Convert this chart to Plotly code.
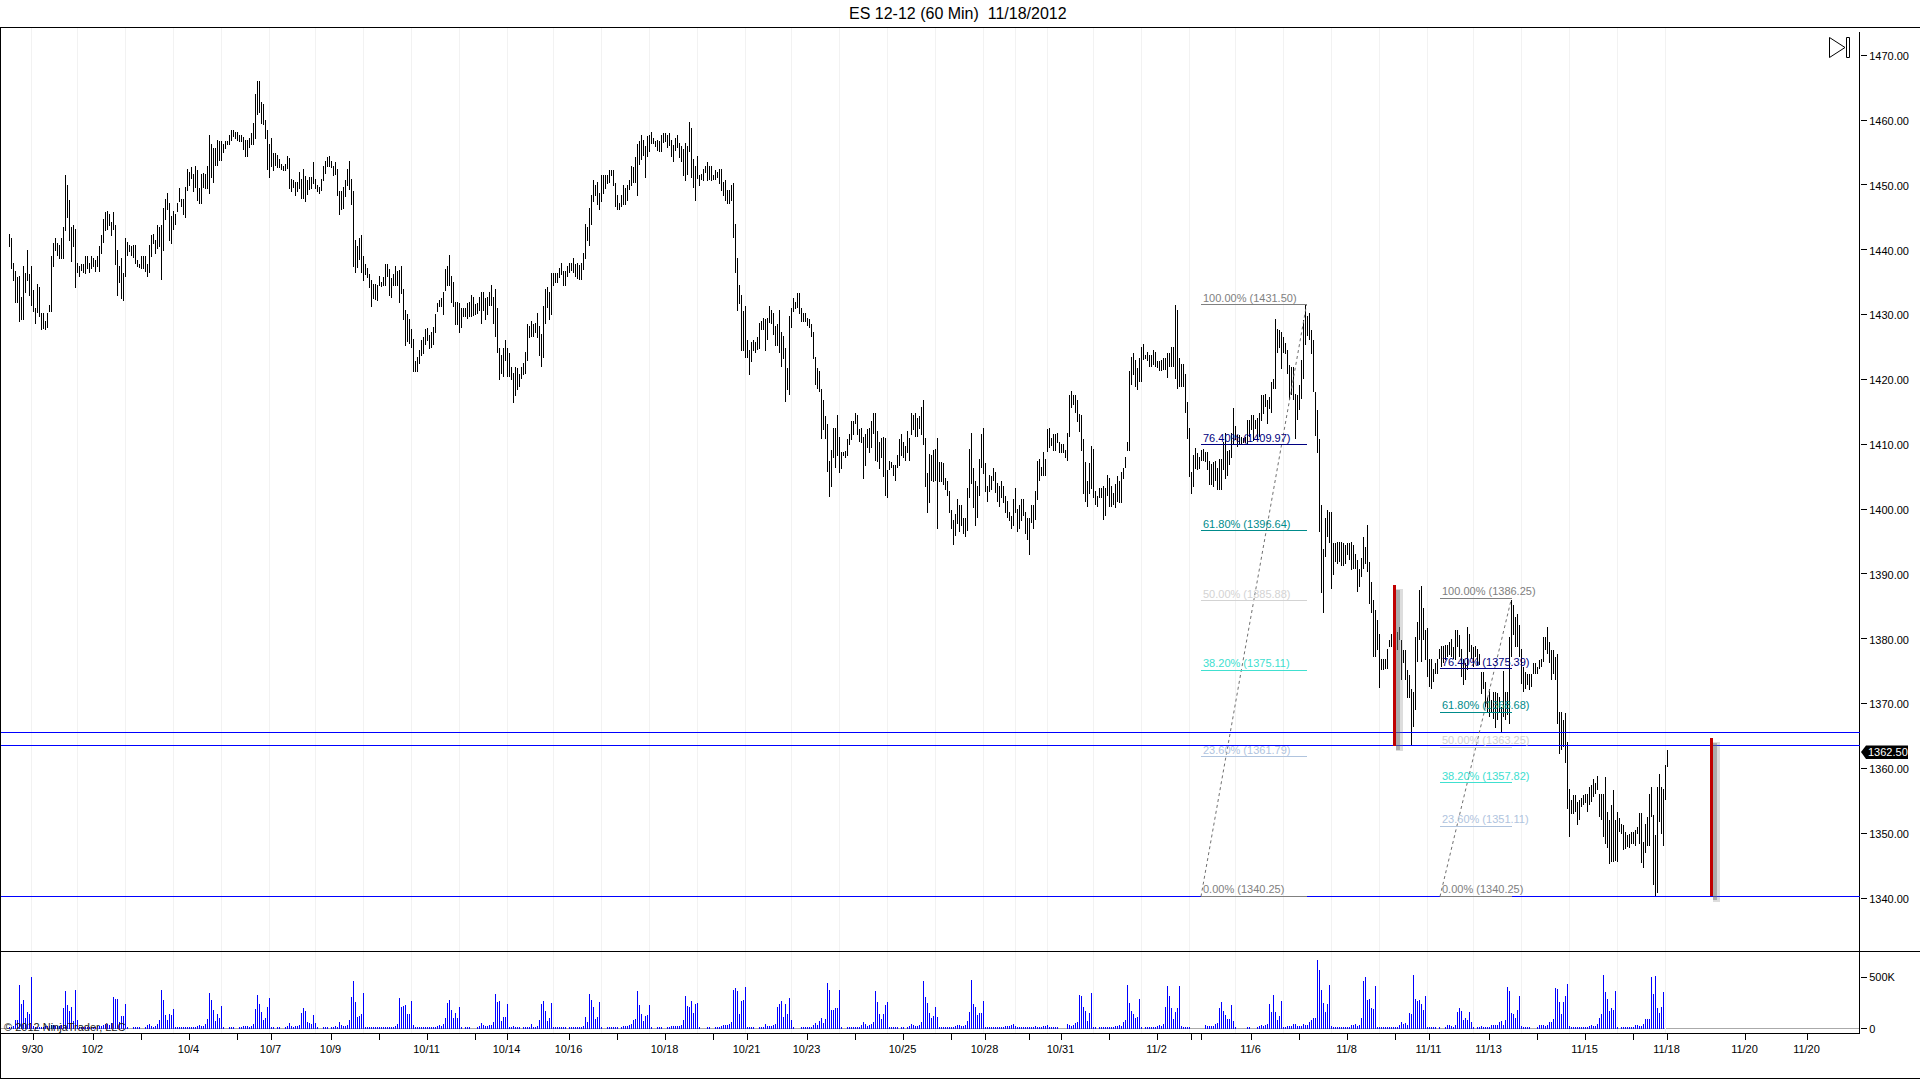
import plotly.graph_objects as go

TITLE = "ES 12-12 (60 Min)\u00a0\u00a011/18/2012"

highs_a = [1442.4,1441.9,1437.9,1436.7,1435.8,1435.9,1432.7,1437.5,1436.5,1439.9,1436.2,1437.5,1433.8,1431.0,1434.7,1434.2,1430.2,1430.2,1429.0,1430.2,1431.5,1439.0,1441.0,1441.9,1441.0,1440.7,1441.8,1443.5,1451.5,1450.0,1447.7,1443.5,1443.9,1443.2,1437.9,1437.5,1437.8,1437.8,1439.0,1439.0,1437.9,1439.0,1438.7,1438.5,1439.0,1440.6,1442.3,1444.7,1445.8,1446.0,1445.5,1444.3,1445.8,1443.8,1439.9,1437.5,1438.7,1436.5,1441.8,1441.2,1440.7,1440.6,1440.7,1440.7,1438.5,1437.8,1439.0,1439.0,1439.0,1437.8,1440.7,1442.3,1442.4,1441.5,1443.8,1443.5,1443.8,1446.4,1447.9,1448.7,1447.2,1445.2,1446.0,1445.5,1447.2,1449.5,1447.9,1447.9,1449.7,1452.4,1452.0,1452.7,1451.7,1452.9,1452.3,1449.5,1451.7,1451.8,1451.7,1452.9,1457.7,1456.3,1455.7,1455.7,1456.9,1456.8,1456.8,1456.4,1456.8,1456.8,1457.7,1458.5,1458.5,1458.1,1458.1,1457.7,1457.7,1457.4,1456.9,1456.9,1457.2,1458.0,1459.5,1464.0,1466.0,1466.0,1462.8,1462.5,1460.0,1458.5,1456.3,1457.2,1454.9,1454.9,1454.7,1454.0,1453.2,1452.9,1453.2,1454.4,1454.1,1451.0,1450.7,1450.4,1450.4,1452.0,1450.9,1452.4,1451.4,1450.7,1451.2,1451.2,1453.5,1451.0,1450.0,1449.7,1451.0,1452.9,1453.7,1454.3,1454.4,1453.7,1452.9,1453.5,1452.4,1449.0,1449.0,1449.7,1450.7,1452.4,1453.7,1451.0,1449.0,1441.5,1440.6,1441.8,1442.3,1439.0,1437.8,1437.2,1436.2,1435.3,1434.7,1434.7,1434.5,1435.9,1435.0,1435.8,1437.8,1437.8,1437.0,1435.6,1436.2,1437.5,1436.7,1436.9,1437.5,1433.9,1430.7,1430.1,1429.3,1427.8,1426.2,1422.8,1423.4,1424.5,1426.1,1426.5,1427.8,1427.9,1426.8,1427.3,1428.1,1430.1,1431.8,1432.2,1432.5,1433.5,1437.0,1437.5,1439.2,1435.9,1435.0,1431.9,1431.9,1431.8,1431.0,1431.0,1431.0,1431.8,1431.9,1433.0,1432.7,1431.6,1431.8,1432.7]
lows_a = [1440.5,1437.1,1435.2,1431.8,1431.8,1428.9,1429.2,1429.2,1433.3,1435.2,1432.9,1431.3,1430.4,1428.6,1430.2,1429.7,1427.7,1427.8,1427.7,1428.0,1430.4,1430.4,1437.4,1439.8,1439.0,1438.6,1438.6,1438.6,1442.9,1444.9,1441.4,1438.1,1440.5,1434.1,1436.4,1435.8,1436.8,1436.4,1436.2,1437.1,1436.4,1437.1,1437.4,1436.6,1437.4,1436.6,1439.4,1441.1,1442.9,1443.0,1443.6,1442.2,1443.0,1437.7,1432.9,1434.9,1432.4,1432.1,1435.8,1439.1,1439.6,1439.0,1438.7,1437.8,1437.4,1437.2,1437.1,1437.1,1436.6,1435.8,1436.4,1438.9,1440.9,1439.4,1440.2,1440.5,1435.4,1439.8,1444.6,1446.2,1441.4,1440.9,1443.1,1443.9,1445.8,1447.3,1446.6,1445.4,1444.9,1449.1,1449.8,1450.9,1448.9,1449.5,1447.5,1447.0,1447.0,1449.5,1449.4,1449.4,1448.6,1451.1,1450.3,1453.0,1453.0,1453.7,1453.7,1455.0,1455.5,1456.1,1456.1,1456.8,1457.4,1457.1,1456.8,1456.6,1456.6,1455.4,1454.3,1454.3,1455.7,1456.1,1456.1,1457.1,1460.8,1461.1,1459.4,1459.2,1457.1,1452.3,1451.1,1452.8,1452.2,1452.9,1452.6,1452.6,1452.3,1452.1,1452.1,1452.4,1449.4,1448.9,1449.5,1448.3,1448.9,1449.4,1447.8,1447.8,1447.3,1448.4,1449.2,1449.4,1450.1,1449.4,1448.9,1448.6,1449.0,1450.6,1451.7,1452.7,1452.7,1452.6,1451.4,1451.5,1448.3,1445.3,1446.1,1446.3,1448.1,1449.8,1449.2,1446.9,1437.3,1436.5,1437.2,1438.5,1436.5,1435.2,1436.1,1435.6,1434.1,1431.2,1432.4,1432.2,1432.1,1434.4,1434.2,1434.4,1434.4,1435.8,1432.9,1432.5,1434.4,1434.4,1434.4,1431.8,1433.2,1429.2,1425.1,1425.8,1425.5,1424.8,1421.1,1421.1,1421.1,1422.4,1423.6,1424.0,1425.3,1425.9,1424.7,1424.8,1425.3,1427.1,1430.4,1431.2,1431.2,1429.9,1433.6,1434.4,1434.4,1431.8,1431.2,1428.4,1428.4,1427.1,1427.9,1429.7,1429.6,1429.4,1429.6,1429.6,1429.8,1429.9,1430.1,1430.5]

highs_b = [1433.5,1433.5,1432.5,1432.7,1433.5,1434.5,1432.7,1433.9,1431.0,1424.8,1423.8,1424.8,1426.1,1424.8,1424.1,1422.0,1421.0,1422.0,1421.7,1420.8,1422.0,1422.5,1424.2,1428.5,1428.2,1429.0,1428.5,1428.7,1430.2,1428.2,1427.0,1431.3,1433.9,1434.2,1433.5,1436.5,1436.4,1436.5,1436.5,1437.2,1437.9,1436.7,1436.7,1437.5,1437.9,1437.9,1438.7,1437.8,1437.9,1437.6,1437.9,1439.5,1444.0,1443.5,1446.4,1448.4,1450.7,1450.0,1450.4,1448.7,1451.5,1451.5,1451.5,1451.5,1452.3,1452.3,1452.3,1450.3,1448.4,1447.2,1448.4,1450.0,1449.5,1450.0,1450.7,1452.9,1452.7,1454.3,1456.3,1456.8,1457.7,1456.9,1456.0,1457.5,1457.7,1458.1,1457.2,1456.8,1456.9,1456.8,1457.7,1458.0,1458.0,1457.7,1458.0,1456.9,1456.1,1457.2,1457.7,1456.5,1456.0,1455.5,1456.5,1456.0,1459.7,1458.8,1454.0,1452.9,1454.4,1451.5,1451.7,1452.4,1452.9,1453.5,1452.9,1452.9,1451.5,1452.3,1452.0,1452.4,1452.4,1450.4,1450.7,1449.2,1449.2,1450.0,1450.3,1444.0,1438.7,1434.5,1433.0,1430.5,1431.3,1426.1,1424.5,1425.8,1426.1,1425.8,1426.5,1428.7,1429.0,1429.5,1429.3,1429.5,1431.3,1430.7,1430.2,1428.2,1428.5,1430.7,1427.4,1426.7,1424.8,1421.7,1429.8,1431.0,1432.5,1431.9,1433.3,1433.3,1431.0,1430.2,1430.2,1429.5,1429.3,1428.5,1427.3,1423.4,1421.7,1421.3]
lows_b = [1428.5,1430.6,1429.1,1429.9,1431.3,1431.3,1428.5,1426.5,1424.1,1419.9,1420.8,1420.4,1422.8,1420.4,1420.4,1419.9,1416.3,1417.4,1418.4,1418.8,1420.0,1420.7,1420.8,1422.8,1426.4,1426.5,1426.5,1427.1,1426.4,1423.6,1421.9,1423.3,1428.5,1431.1,1429.1,1429.9,1434.4,1434.9,1434.9,1435.6,1436.1,1434.4,1434.4,1435.8,1436.5,1436.7,1436.5,1435.8,1435.5,1435.3,1435.3,1436.9,1438.6,1441.3,1440.6,1443.8,1447.3,1448.3,1446.9,1446.1,1447.3,1448.6,1449.4,1450.1,1450.3,1451.4,1449.8,1446.6,1446.1,1446.1,1446.6,1446.9,1446.9,1447.5,1449.2,1449.8,1450.3,1450.3,1448.3,1453.1,1453.8,1454.4,1451.1,1454.3,1455.1,1456.3,1456.3,1455.8,1455.2,1455.1,1455.1,1456.5,1456.6,1455.7,1456.0,1454.3,1453.5,1455.2,1455.7,1454.1,1453.5,1451.4,1450.6,1451.5,1455.1,1451.1,1449.5,1447.5,1450.9,1449.8,1450.7,1450.6,1451.8,1450.6,1450.7,1450.6,1450.7,1450.7,1451.1,1450.1,1449.0,1448.3,1447.5,1447.0,1447.0,1447.5,1441.8,1436.5,1430.5,1431.6,1424.4,1424.4,1423.3,1423.3,1420.7,1422.7,1424.4,1424.1,1424.5,1424.7,1427.6,1427.6,1424.4,1426.1,1428.7,1428.5,1426.8,1425.1,1425.1,1424.1,1422.0,1423.1,1416.6,1418.4,1417.6,1427.9,1430.4,1430.8,1431.0,1430.1,1428.8,1428.8,1428.8,1428.2,1427.9,1426.5,1423.1,1419.1,1418.6,1418.0]

highs_c = [1418.5,1416.8,1414.3,1413.2,1407.5,1409.1,1412.5,1412.5,1414.5,1411.2,1408.8,1408.8,1408.9,1410.8,1411.6,1413.6,1413.6,1414.8,1414.5,1412.3,1412.5,1411.2,1411.6,1412.3,1412.5,1413.6,1414.9,1414.8,1412.0,1410.3,1410.9,1411.2,1410.9,1406.0,1407.5,1407.2,1406.8,1406.8,1408.3,1410.8,1411.6,1410.3,1409.7,1412.0,1410.9,1414.8,1414.5,1414.8,1414.0,1414.3,1415.7,1416.8,1410.9,1405.5,1408.5,1408.3,1409.1,1409.2,1410.9,1407.2,1407.2,1407.1,1404.8,1404.3,1402.8,1399.8,1398.3,1399.2,1401.5,1400.6,1400.7,1398.7,1398.6,1403.2,1409.2,1411.7,1406.3,1404.3,1403.5,1407.7,1411.6,1412.5,1407.1,1403.5,1405.2,1405.1,1406.3,1405.7,1404.0,1403.5,1404.3,1403.5,1402.1,1401.2,1399.5,1398.9,1401.5,1403.2,1400.0,1400.6,1401.5,1401.5,1399.5,1398.7,1398.7,1400.6,1400.6,1402.8,1407.5,1407.7,1406.5,1408.8,1407.7,1412.3,1412.5,1410.9,1411.6,1411.6,1411.7,1410.3,1410.0,1410.0,1409.1,1411.7,1417.6,1418.2,1417.6,1417.6,1416.8,1414.6,1414.5,1410.8,1407.2,1404.3,1407.1,1409.7,1409.2,1402.8,1402.0,1403.2,1403.2,1403.5,1403.2,1405.2,1404.8,1403.5,1402.5,1403.8,1405.1,1404.3,1405.7,1406.3,1408.0,1410.3,1421.3,1423.4,1424.05,1423.0,1421.7,1423.3,1425.0,1425.4,1423.7,1424.2,1423.7,1423.7,1424.5,1424.2,1422.8,1422.8]
lows_c = [1410.8,1412.2,1410.8,1405.8,1401.8,1403.4,1407.9,1406.3,1408.2,1405.5,1406.2,1408.2,1407.9,1408.2,1409.9,1410.6,1411.4,1413.1,1411.4,1410.3,1410.2,1404.6,1406.6,1409.4,1408.6,1409.5,1411.6,1407.4,1407.3,1406.2,1407.9,1404.9,1402.1,1401.7,1406.0,1406.3,1405.1,1404.3,1406.3,1406.6,1408.2,1407.9,1407.5,1408.6,1407.5,1411.4,1412.2,1411.1,1411.1,1412.3,1411.4,1409.9,1403.4,1399.4,1400.9,1404.3,1404.2,1404.3,1396.9,1404.2,1404.2,1403.7,1402.9,1402.1,1399.4,1396.9,1394.4,1395.8,1397.7,1396.4,1397.4,1396.1,1395.7,1396.6,1401.7,1403.8,1400.1,1397.4,1398.6,1402.1,1406.3,1405.4,1402.6,1401.1,1402.6,1402.9,1404.3,1402.5,1401.1,1400.4,1401.7,1400.9,1399.4,1398.6,1398.1,1396.9,1397.4,1399.4,1396.4,1397.0,1398.1,1398.9,1396.1,1395.2,1392.9,1397.8,1397.0,1398.4,1401.4,1404.3,1405.1,1405.1,1405.1,1408.8,1409.5,1409.7,1408.9,1408.9,1410.2,1408.6,1408.6,1408.6,1407.9,1407.5,1411.1,1415.6,1416.0,1414.8,1413.4,1411.9,1408.9,1402.3,1401.1,1400.4,1402.3,1403.1,1401.7,1400.7,1400.4,1401.7,1401.7,1398.4,1398.9,1402.0,1400.4,1400.4,1400.6,1400.1,1401.1,1400.9,1400.9,1404.6,1406.3,1408.9,1408.9,1419.1,1420.7,1418.8,1418.3,1419.6,1419.6,1423.0,1423.1,1422.8,1422.0,1422.0,1422.2,1422.0,1421.7,1421.3]

highs_d = [1423.0,1423.3,1423.3,1424.05,1424.05,1425.0,1425.0,1431.5,1430.7,1423.3,1422.4,1422.4,1420.8,1416.5,1412.5,1405.7,1408.3,1409.5,1408.6,1408.0,1409.1,1409.2,1408.8,1408.8,1407.5,1406.9,1407.2,1407.5,1406.3,1407.7,1407.7,1410.3,1411.7,1408.9,1409.1,1411.7,1415.6,1412.8,1411.4,1411.4,1411.1,1410.9,1411.1,1413.7,1413.7,1414.5,1414.5,1413.7,1414.0,1414.9,1417.6,1417.6,1417.7,1416.8,1417.3,1419.6,1420.0,1429.3,1427.8,1427.6,1427.4,1426.5,1425.7,1424.5,1422.2,1422.0,1422.0,1417.8,1417.6,1419.1,1423.0,1429.1,1431.5,1429.8,1430.2,1427.6,1426.05,1418.0,1415.3,1410.8,1400.7,1393.9,1398.7,1399.8,1399.5,1399.5,1394.7,1394.7,1394.9,1394.9,1394.9,1394.7,1394.4,1394.7,1394.7,1394.9,1394.4,1393.1,1392.1,1390.8,1392.4,1395.7,1394.2,1397.5,1391.9,1388.8]
lows_d = [1421.3,1421.4,1421.4,1420.2,1422.0,1422.0,1421.9,1420.0,1418.5,1418.9,1418.8,1418.8,1414.9,1410.8,1404.9,1402.3,1403.4,1406.2,1406.0,1406.2,1407.5,1407.4,1407.2,1406.0,1403.7,1403.7,1403.4,1404.3,1402.9,1402.9,1402.9,1406.0,1404.6,1405.1,1406.8,1407.9,1410.0,1410.6,1409.6,1409.9,1410.0,1410.2,1410.2,1410.1,1411.1,1412.2,1410.5,1412.3,1410.6,1411.1,1413.6,1414.7,1415.8,1413.1,1415.5,1414.9,1418.6,1418.6,1424.05,1424.8,1421.6,1424.05,1424.0,1420.8,1416.8,1417.6,1416.8,1410.8,1413.7,1415.3,1417.0,1420.0,1425.3,1426.7,1426.05,1424.0,1418.1,1411.3,1408.6,1396.5,1387.0,1384.0,1392.6,1395.7,1394.7,1387.7,1389.8,1391.9,1391.6,1391.9,1391.3,1391.3,1391.6,1392.9,1392.1,1390.6,1390.8,1390.8,1387.2,1388.0,1389.5,1390.8,1391.6,1390.3,1385.4,1384.0]

highs_e = [1386.05,1384.4,1382.9,1380.8,1376.9,1376.9,1376.9,1378.5,1379.8,1380.8,1381.8,1381.3,1381.1,1381.8,1379.8,1378.2,1378.2,1375.2,1374.4,1372.3,1371.8,1380.3,1382.6,1387.5,1388.1,1384.7,1381.3,1381.6,1376.9,1376.9,1375.4,1376.2,1376.9,1378.5,1378.9,1378.9,1379.0,1379.0,1379.5,1380.0,1378.8,1381.4,1381.3,1380.6,1378.5,1376.9,1376.2,1381.8,1380.8,1379.0,1378.8,1378.9,1378.5,1377.7,1374.9,1374.9,1373.4,1371.0,1372.3,1370.5,1371.8,1371.8,1371.7,1371.0,1369.5,1375.0,1371.8,1371.8,1380.3,1386.05,1385.2,1383.4,1383.9,1382.1,1378.5,1375.7,1374.9,1374.6,1374.6,1374.6,1376.2,1376.2,1375.7,1376.7,1376.9,1380.2,1380.3,1381.8,1379.5,1378.2,1378.2,1377.2,1377.7,1368.7,1368.7,1367.4,1368.5,1364.1,1356.9,1355.1,1355.9,1355.9,1354.8,1355.1,1355.4,1355.9,1356.1,1356.1,1357.2,1357.4,1358.4,1357.7,1358.9,1356.1,1356.1,1356.1,1358.7,1353.3,1352.0,1354.3,1356.6,1352.0,1353.3,1352.3,1351.5,1351.2,1350.2,1349.7,1349.9,1350.2,1350.2,1350.5,1351.0,1353.1,1353.1,1348.6,1351.5,1352.5,1356.1,1357.2,1352.8,1349.7,1357.2,1359.2,1357.2,1356.9,1360.5,1362.8]
lows_e = [1377.2,1377.2,1378.2,1372.4,1375.2,1375.2,1375.4,1375.4,1378.8,1378.8,1380.3,1379.8,1378.2,1379.8,1373.6,1376.2,1373.6,1370.8,1370.8,1363.5,1366.4,1369.0,1376.4,1379.8,1376.4,1379.8,1376.7,1374.1,1372.6,1372.3,1373.4,1374.6,1374.6,1376.9,1375.7,1376.2,1376.7,1377.2,1377.5,1377.2,1376.9,1376.7,1378.8,1377.2,1374.1,1372.8,1373.6,1375.2,1378.0,1376.9,1375.7,1377.2,1375.9,1375.9,1371.5,1372.3,1369.5,1368.5,1367.9,1368.7,1367.7,1366.3,1367.4,1368.5,1365.6,1367.9,1367.4,1368.2,1366.9,1377.2,1380.6,1378.8,1378.8,1377.2,1373.1,1371.8,1372.3,1372.8,1372.1,1372.6,1374.6,1374.6,1374.6,1375.4,1375.7,1376.4,1378.2,1377.7,1376.2,1373.6,1374.6,1373.6,1366.9,1362.3,1362.8,1363.3,1360.8,1353.8,1349.4,1353.0,1353.0,1353.3,1351.2,1352.0,1354.1,1354.3,1354.6,1353.3,1354.3,1354.8,1355.6,1356.1,1356.6,1352.5,1352.0,1349.4,1348.4,1347.8,1345.3,1345.6,1345.6,1345.8,1345.5,1350.2,1349.9,1347.4,1347.5,1347.9,1347.8,1348.4,1348.4,1348.1,1349.9,1348.4,1345.4,1344.6,1346.9,1348.0,1348.1,1352.5,1342.0,1340.25,1340.8,1351.8,1349.9,1348.0,1355.1,1360.2]

volume_k_a = [13,16,26,84,84,423,239,277,103,161,142,500,
26,19,19,16,13,19,26,26,26,32,32,26,26,26,35,
197,365,229,171,210,74,374,84,
13,13,13,13,13,13,19,19,13,26,26,26,35,45,45,35,55,
306,287,287,65,123,123,239,19,
0,0,13,13,13,13,0,0,
19,32,45,26,19,26,45,84,374,277,132,84,142,132,190,
13,13,13,13,13,16,13,19,13,13,16,26,32,26,26,45,
94,345,277,181,74,142,103,219,
13,0,0,13,13,13,0,0,13,19,26,26,26,19,26,45,
190,326,239,161,84,103,210,297,
13,13,0,13,13,0,0,13,26,55,26,19,26,26,32,
152,200,171,65,55,45,132,55,
19,0,0,13,13,13,0,13,19,26,19,65,32,26,26,35,
84,306,461,258,113,123,142,345]
volume_k_b = [13,13,13,13,13,13,13,16,13,16,19,19,19,19,19,26,45,
297,210,219,229,142,142,268,
32,13,13,13,19,16,13,13,13,13,13,16,26,32,26,45,
103,248,277,181,103,152,103,210,
13,0,13,13,13,0,0,0,19,26,55,35,26,26,35,35,
65,335,258,268,74,113,113,239,
13,16,26,13,13,13,0,19,19,19,19,45,19,19,26,
84,239,268,171,74,103,248,
13,13,13,13,13,13,13,0,13,13,13,19,19,19,13,26,
113,65,335,277,210,94,113,258,
13,0,0,13,13,13,19,16,13,0,19,26,26,26,32,45,84,
94,365,229,142,74,123,132,229,
13,0,0,13,13,13,0,0,13,19,26,26,26,26,26,32,
84,316,219,210,268,152,239,248,
13,0,0,0,13,13,0,0,19,19,19,26,32,32,35,45,65,
374,394,365,142,268,277,403]
volume_k_c = [13,13,13,13,0,0,13,13,13,45,26,26,26,35,45,
210,239,268,113,239,142,297,84,
13,0,0,0,13,13,13,13,13,13,35,55,35,74,
103,55,94,442,374,181,181,200,200,374,
13,0,0,13,13,19,13,13,13,16,32,65,45,26,32,45,65,
365,258,142,94,142,229,258,
13,13,13,13,13,0,13,13,0,19,26,45,32,26,26,35,65,
461,306,248,152,103,123,210,113,
13,13,13,13,13,13,16,19,26,32,35,26,26,32,74,
161,471,239,210,132,152,152,268,
13,13,13,13,13,13,13,13,13,19,26,26,26,32,45,26,19,13,13,13,13,13,13,13,13,26,19,19,13,26,26,32,19,13,13,13,13,0,0,0,0,45,32,26,35,55,65,
326,316,210,171,74,152,345]
volume_k_d = [13,13,0,13,13,13,13,13,13,13,13,26,26,35,26,65,84,
423,248,171,142,103,113,287,
13,0,13,13,13,13,19,19,26,35,26,45,
210,413,316,200,94,161,200,413,
26,19,13,13,13,0,0,0,0,0,0,0,32,26,26,26,26,45,55,
200,258,171,132,94,94,229,74,
13,0,0,0,0,0,13,13,0,0,0,19,26,32,26,35,45,
239,161,326,161,84,123,268,
13,13,26,26,26,45,45,26,26,26,45,35,32,65,84,103,103,
665,568,374,248,161,239,423]
volume_k_e = [26,13,13,13,13,13,13,13,13,19,35,35,45,26,35,103,
461,500,277,287,200,190,413,
13,13,13,13,13,13,13,13,13,13,13,35,65,45,55,35,152,142,
519,287,268,277,239,181,316,
13,13,13,13,13,0,13,0,0,13,35,35,26,13,35,
161,200,171,84,103,84,161,65,
13,0,13,19,26,19,19,19,19,32,35,35,35,65,74,35,84,
403,365,152,142,103,181,316,
26,13,13,13,13,0,0,0,13,35,35,35,26,35,65,65,94,
394,384,258,142,258,316,432,
26,13,13,13,13,13,13,13,13,13,26,35,26,26,45,103,142,
519,355,287,171,200,181,365,
13,0,13,13,13,13,13,13,19,35,35,26,26,45,94,94,94,
500,335,510,200,152,210,355,0]

FIB_A_LEVELS = [1431.50, 1409.97, 1396.64, 1385.88, 1375.11, 1361.79, 1340.25]
FIB_B_LEVELS = [1386.25, 1375.39, 1368.68, 1363.25, 1357.82, 1351.11, 1340.25]
FIB_PCTS = ["100.00%", "76.40%", "61.80%", "50.00%", "38.20%", "23.60%", "0.00%"]
FIB_COLORS = ["#808080", "#000080", "#008B8B", "#D3D3D3", "#40E0D0", "#B0C4DE", "#808080"]
SUPPORT_LEVELS = [1365.55, 1363.54, 1340.25]
LAST_PRICE = 1362.50

PRICE_TICKS = [1340,1350,1360,1370,1380,1390,1400,1410,1420,1430,1440,1450,1460,1470]
DATE_BARS = [12,42,66,90,114,131,161,185,209,233,249,280,304,328,352,369,399,423,447,471,488,510,526,550,574,591,596,621,645,669,693,710,740,764,788,812,829,868,899]
DATE_LABELS = ["9/30","10/2","","10/4","","10/7","10/9","","10/11","","10/14","10/16","","10/18","","10/21","10/23","","10/25","","10/28","","10/31","","11/2","","","11/6","","11/8","","11/11","11/13","","11/15","","11/18","11/20","11/20"]
GRID_BARS = [11,34,58,82,106,130,153,177,201,225,249,272,296,320,344,368,391,415,439,463,487,503,519,542,566,590,613,637,661,685,709,732,756,780,804,828]

highs = highs_a + highs_b + highs_c + highs_d + highs_e
lows = lows_a + lows_b + lows_c + lows_d + lows_e
volume = [v * 1000 for v in volume_k_a + volume_k_b + volume_k_c + volume_k_d + volume_k_e]

W, H = 1920, 1079
L, R, T, B = 1, 60, 27, 46
PW, PH = W - L - R, H - T - B
VOL_PX = 82


def px(x):
    return (x - L) / PW


def py(y):
    return (H - B - y) / PH


bar_x, bar_y = [], []
for i, (h, l) in enumerate(zip(highs, lows)):
    bar_x += [i, i, None]
    bar_y += [l, h, None]

fig = go.Figure()
fig.add_trace(go.Scatter(x=bar_x, y=bar_y, mode="lines", line=dict(color="#000000", width=1),
                         hoverinfo="skip", showlegend=False, yaxis="y", xaxis="x"))
fig.add_trace(go.Bar(x=list(range(len(volume))), y=volume, width=0.5, marker=dict(color="#0000FF", line=dict(width=0)),
                     showlegend=False, yaxis="y2", xaxis="x"))

shapes = []


def frame(x0, y0, x1, y1, color="#000000", width=1):
    shapes.append(dict(type="line", xref="paper", yref="paper", x0=px(x0), x1=px(x1), y0=py(y0), y1=py(y1),
                       line=dict(color=color, width=width)))


shapes.append(dict(type="line", xref="paper", yref="y2", x0=0, x1=1, y0=0, y1=0, layer="below",
                   line=dict(color="#AAAAAA", width=1)))

frame(0, 27.5, 1920, 27.5)
frame(0, 951.5, 1920, 951.5)
frame(0, 1078.5, 1920, 1078.5)
frame(0.5, 27, 0.5, 1079)
frame(1859.5, 32, 1859.5, 1033)

for lvl in SUPPORT_LEVELS:
    shapes.append(dict(type="line", xref="paper", yref="y", x0=px(1), x1=1, y0=lvl, y1=lvl,
                       line=dict(color="#0000FF", width=1)))

for xb, top, bot in [(692.25, 1388.25, 1363.5), (850.75, 1364.75, 1340.25)]:
    shapes.append(dict(type="line", x0=xb + 2.6, x1=xb + 2.6, y0=top - 0.6, y1=bot - 0.8, xref="x", yref="y",
                       line=dict(color="rgba(120,120,120,0.25)", width=7)))
    shapes.append(dict(type="line", x0=xb + 2.2, x1=xb + 2.2, y0=top - 0.8, y1=bot - 0.6, xref="x", yref="y",
                       line=dict(color="rgba(110,110,110,0.45)", width=4)))
    shapes.append(dict(type="line", x0=xb, x1=xb, y0=top, y1=bot, xref="x", yref="y",
                       line=dict(color="#C00000", width=3)))

annotations = []
for (x0, x1, levels) in [(595.75, 648.5, FIB_A_LEVELS), (715.25, 751.0, FIB_B_LEVELS)]:
    shapes.append(dict(type="line", xref="x", yref="y", x0=x0, x1=x1, y0=levels[-1], y1=levels[0],
                       line=dict(color="#707070", width=1, dash="dot")))
    for pct, lvl, col in zip(FIB_PCTS, levels, FIB_COLORS):
        shapes.append(dict(type="line", xref="x", yref="y", x0=x0, x1=x1, y0=lvl, y1=lvl,
                           line=dict(color=col, width=1)))
        annotations.append(dict(x=x0, y=lvl, xref="x", yref="y", text=f"{pct} ({lvl:.2f})", showarrow=False,
                                xanchor="left", yanchor="middle", xshift=0, yshift=7,
                                font=dict(family="Liberation Sans", size=11, color=col)))

shapes.append(dict(type="path", xref="paper", yref="paper",
                   path=f"M {px(1861)} {py(752)} L {px(1866)} {py(745.5)} L {px(1908)} {py(745.5)} "
                        f"L {px(1908)} {py(759)} L {px(1866)} {py(759)} Z",
                   fillcolor="#000000", line=dict(width=0)))
annotations.append(dict(x=px(1888), y=LAST_PRICE, xref="paper", yref="y", text=f"{LAST_PRICE:.2f}", showarrow=False,
                        xanchor="center", yanchor="middle", font=dict(family="Liberation Sans", size=11, color="#FFFFFF")))

shapes.append(dict(type="path", xref="paper", yref="paper",
                   path=f"M {px(1829.5)} {py(37.5)} L {px(1845)} {py(47.5)} L {px(1829.5)} {py(57.5)} Z",
                   line=dict(color="#000000", width=1), fillcolor="rgba(0,0,0,0)"))
shapes.append(dict(type="rect", xref="paper", yref="paper", x0=px(1846.5), x1=px(1849.5), y0=py(37.5), y1=py(57.5),
                   line=dict(color="#000000", width=1), fillcolor="rgba(0,0,0,0)"))

annotations.append(dict(x=px(2), y=py(1027), xref="paper", yref="paper", text="\u00a9 2012 NinjaTrader, LLC",
                        showarrow=False, xanchor="left", yanchor="middle",
                        font=dict(family="Liberation Sans", size=11, color="#1a1a1a")))
annotations.append(dict(x=px(958), y=py(14), xref="paper", yref="paper", text=TITLE, showarrow=False,
                        xanchor="center", yanchor="middle",
                        font=dict(family="Liberation Sans", size=16, color="#000000")))

tick_font = dict(family="Liberation Sans", size=11, color="#000000")
fig.update_layout(
    width=W, height=H, autosize=False, paper_bgcolor="#FFFFFF", plot_bgcolor="#FFFFFF",
    margin=dict(l=L, r=R, t=T, b=B, pad=0), showlegend=False, bargap=0,
    shapes=shapes, annotations=annotations, hovermode=False,
    xaxis=dict(range=[-4.25, 925.25], anchor="y2", showline=True, linecolor="#000000", linewidth=1,
               tickmode="array", tickvals=DATE_BARS, ticktext=DATE_LABELS, ticks="outside", ticklen=6,
               tickcolor="#000000", tickwidth=1, tickfont=tick_font, showgrid=False, zeroline=False,
               ticklabelshift=-1,
               minor=dict(tickmode="array", tickvals=GRID_BARS, showgrid=True, gridcolor="#F2F2F2", gridwidth=1,
                          ticks="")),
    yaxis=dict(domain=[VOL_PX / PH, 1], range=[1331.84, 1474.37], side="right", anchor="x",
               tickmode="array", tickvals=PRICE_TICKS, ticktext=[f"{t:.2f}" for t in PRICE_TICKS], ticks="outside",
               ticklen=6, tickcolor="#000000", tickfont=tick_font, showgrid=False, zeroline=False, showline=False,
               ticklabelshift=1),
    yaxis2=dict(domain=[0, VOL_PX / PH], range=[-41600, 751500], side="right", anchor="x",
                tickmode="array", tickvals=[0, 500000], ticktext=["0", "500K"], ticks="outside", ticklen=6,
                tickcolor="#000000", tickfont=tick_font, showgrid=False, zeroline=False, showline=False),
)

POST = """
document.body.style.margin='0';
document.documentElement.style.overflow='hidden';
document.querySelectorAll('.shapelayer path').forEach(function(p){
  var n=(p.getAttribute('d')||'').match(/-?[0-9.]+/g);
  if(n&&n.length===4&&(n[0]===n[2]||n[1]===n[3])){p.style.shapeRendering='crispEdges';}
});
document.querySelectorAll('.bars path, .scatterlayer .js-line').forEach(function(p){p.style.shapeRendering='crispEdges';});
"""
fig.write_html("out.html", config={"displayModeBar": False}, post_script=POST)
